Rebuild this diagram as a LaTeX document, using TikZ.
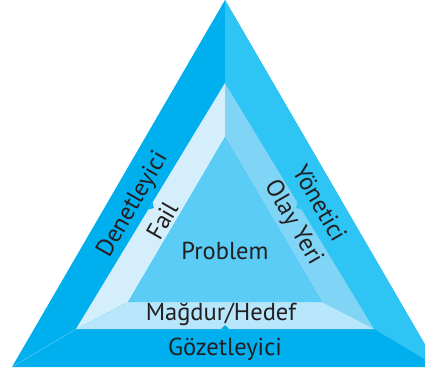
\documentclass[tikz,border=0pt]{standalone}
\usepackage{fontspec}
\setmainfont{PT Sans}
\usetikzlibrary{calc}
\definecolor{outerL}{HTML}{00B0EE}
\definecolor{outerR}{HTML}{2EC4F3}
\definecolor{midL}{HTML}{D4EEFB}
\definecolor{midR}{HTML}{80D4F6}
\definecolor{midB}{HTML}{B8E6FA}
\definecolor{core}{HTML}{5BCCF6}
\definecolor{ink}{HTML}{231F20}
\begin{document}
\begin{tikzpicture}[x=1pt,y=-1pt,lbl/.style={text=ink,inner sep=0pt,font=\fontsize{24.5}{24.5}\selectfont}]
      \def\n{4pt}
      \useasboundingbox (0,0) rectangle (425,371);
      \clip (0,0) rectangle (425,371);
      \coordinate (A) at (225,0);
      \coordinate (B) at (12,367);
      \coordinate (C) at (438,367);
      \coordinate (a) at (225,83);
      \coordinate (b) at (76,329);
      \coordinate (c) at (374,329);
      \coordinate (p) at (225,137);
      \coordinate (q) at (128,302);
      \coordinate (r) at (322,302);
      \fill[outerL] (A) -- (B) -- (C) -- cycle;
      \fill[outerR] (A) -- (C) -- (c) -- (a) -- cycle;
      \draw[outerL!60!white,line width=0.4pt] (B) -- (b);
      \fill[midL] (a) -- (b) -- (q) -- (p) -- cycle;
      \fill[midR] (a) -- (p) -- (r) -- (c) -- cycle;
      \fill[midB] (b) -- (c) -- (r) -- (q) -- cycle;
      \fill[core] (p) -- (q) -- (r) -- cycle;
      \coordinate (m1) at ($(a)!0.5!(b)$);
      \coordinate (m2) at ($(a)!0.5!(c)$);
      \coordinate (m3) at ($(b)!0.5!(c)$);
      \fill[outerL] ($(m1)!\n!(a)$) -- ($(m1)!\n!90:(b)$) -- ($(m1)!\n!(b)$) -- cycle;
      \fill[outerR] ($(m2)!\n!(a)$) -- ($(m2)!\n!-90:(c)$) -- ($(m2)!\n!(c)$) -- cycle;
      \fill[outerL] ($(m3)!\n!(b)$) -- ($(m3)!\n!90:(c)$) -- ($(m3)!\n!(c)$) -- cycle;
      \node[lbl,rotate=60] (den) at (133,205) {Denetleyici};
      \node[lbl,rotate=60] (fail) at (162,221) {Fail};
      \node[lbl,rotate=-60] (yon) at (320,203) {Yönetici};
      \node[lbl,rotate=-60] (olay) at (293,223) {Olay Yeri};
      \node[lbl] (prob) at (225,251) {Problem};
      \node[lbl] (magd) at (221,314) {Mağdur/Hedef};
      \node[lbl] (goz) at (225,349) {Gözetleyici};
    \end{tikzpicture}
\end{document}
